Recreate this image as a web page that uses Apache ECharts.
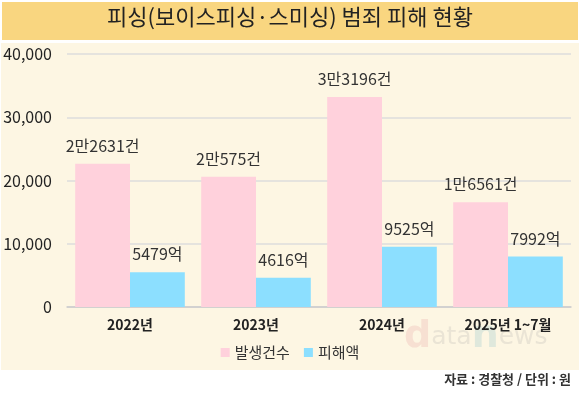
<!DOCTYPE html>
<html style="height: 100%">
<head>
    <meta charset="UTF-8">
    <title>피싱 범죄 피해 현황</title>
    <script src="https://cdn.jsdelivr.net/npm/echarts@6.0.0/dist/echarts.min.js"></script>
    <style>
        body { margin: 0; background: #ffffff; }
        #chart { width: 580px; height: 397px; }
    </style>
</head>
<body>
    <div id="chart"></div>
    <script>
        // 데이터
        var categories = ['2022년', '2023년', '2024년', '2025년 1~7월'];
        var caseCounts = [22631, 20575, 33196, 16561];
        var caseLabels = ['2만2631건', '2만575건', '3만3196건', '1만6561건'];
        var damageAmounts = [5479, 4616, 9525, 7992];
        var damageLabels = ['5479억', '4616억', '9525억', '7992억'];
        var yTicks = [0, 10000, 20000, 30000, 40000];

        var font = '"Noto Sans CJK KR", "Noto Sans", sans-serif';
        var wmFont = '"DejaVu Sans", sans-serif';

        var chart = echarts.init(document.getElementById('chart'));
        var option = {
            backgroundColor: '#ffffff',
            textStyle: { fontFamily: font },
            animation: false,
            graphic: [
                { type: 'rect', shape: { x: 2, y: 2, width: 576, height: 38 }, style: { fill: '#F9D680' }, z: -10 },
                { type: 'rect', shape: { x: 1, y: 43, width: 578, height: 327 }, style: { fill: '#FDF6E3' }, z: -10 },
                {
                    type: 'text', left: 'center', top: 6,
                    style: { text: '피싱(보이스피싱·스미싱) 범죄 피해 현황', fontSize: 22, fontFamily: font, fill: '#222' }
                },
                {
                    type: 'text', right: 9, top: 373,
                    style: { text: '자료 : 경찰청 / 단위 : 원', fontSize: 13, fontWeight: 'bold', fontFamily: font, fill: '#333' }
                },
                // 워터마크
                {
                    type: 'text', left: 404, top: 318, z: -5,
                    style: {
                        text: '{d|d}{g|ata}{n|n}{g|ews}',
                        fontFamily: wmFont,
                        rich: {
                            d: { fontSize: 38, fontWeight: 'bold', fill: '#F7E0D2', fontFamily: wmFont },
                            n: { fontSize: 38, fontWeight: 'bold', fill: '#DFE8DC', fontFamily: wmFont },
                            g: { fontSize: 25, fill: '#EAE4D5', fontFamily: wmFont }
                        }
                    }
                }
            ],
            grid: { left: 67, right: 9, top: 54, bottom: 90 },
            legend: {
                data: ['발생건수', '피해액'],
                left: 'center',
                top: 340,
                itemWidth: 9,
                itemHeight: 9,
                itemGap: 14,
                icon: 'rect',
                textStyle: { fontSize: 15, color: '#333', fontFamily: font }
            },
            xAxis: {
                type: 'category',
                data: categories,
                axisTick: { show: false },
                axisLine: { lineStyle: { color: '#cccccc', width: 1.5 } },
                axisLabel: { fontSize: 14, fontWeight: 'bold', color: '#222', margin: 11 }
            },
            yAxis: {
                type: 'value',
                min: yTicks[0],
                max: yTicks[yTicks.length - 1],
                interval: 10000,
                axisLabel: {
                    fontSize: 16, color: '#222', margin: 15,
                    formatter: function (v) { return v.toLocaleString('en-US'); }
                },
                splitLine: { lineStyle: { color: '#dddddd', width: 1.5 } }
            },
            series: [
                {
                    name: '발생건수',
                    type: 'bar',
                    data: caseCounts,
                    barGap: '0%',
                    barCategoryGap: '13%',
                    itemStyle: { color: '#FFD1DC' },
                    label: {
                        show: true, position: 'top', distance: 10,
                        fontSize: 16, color: '#333',
                        formatter: function (p) { return caseLabels[p.dataIndex]; }
                    }
                },
                {
                    name: '피해액',
                    type: 'bar',
                    data: damageAmounts,
                    itemStyle: { color: '#8CDFFF' },
                    label: {
                        show: true, position: 'top', distance: 10,
                        fontSize: 16, color: '#333',
                        formatter: function (p) { return damageLabels[p.dataIndex]; }
                    }
                }
            ]
        };
        chart.setOption(option);
    </script>
</body>
</html>
